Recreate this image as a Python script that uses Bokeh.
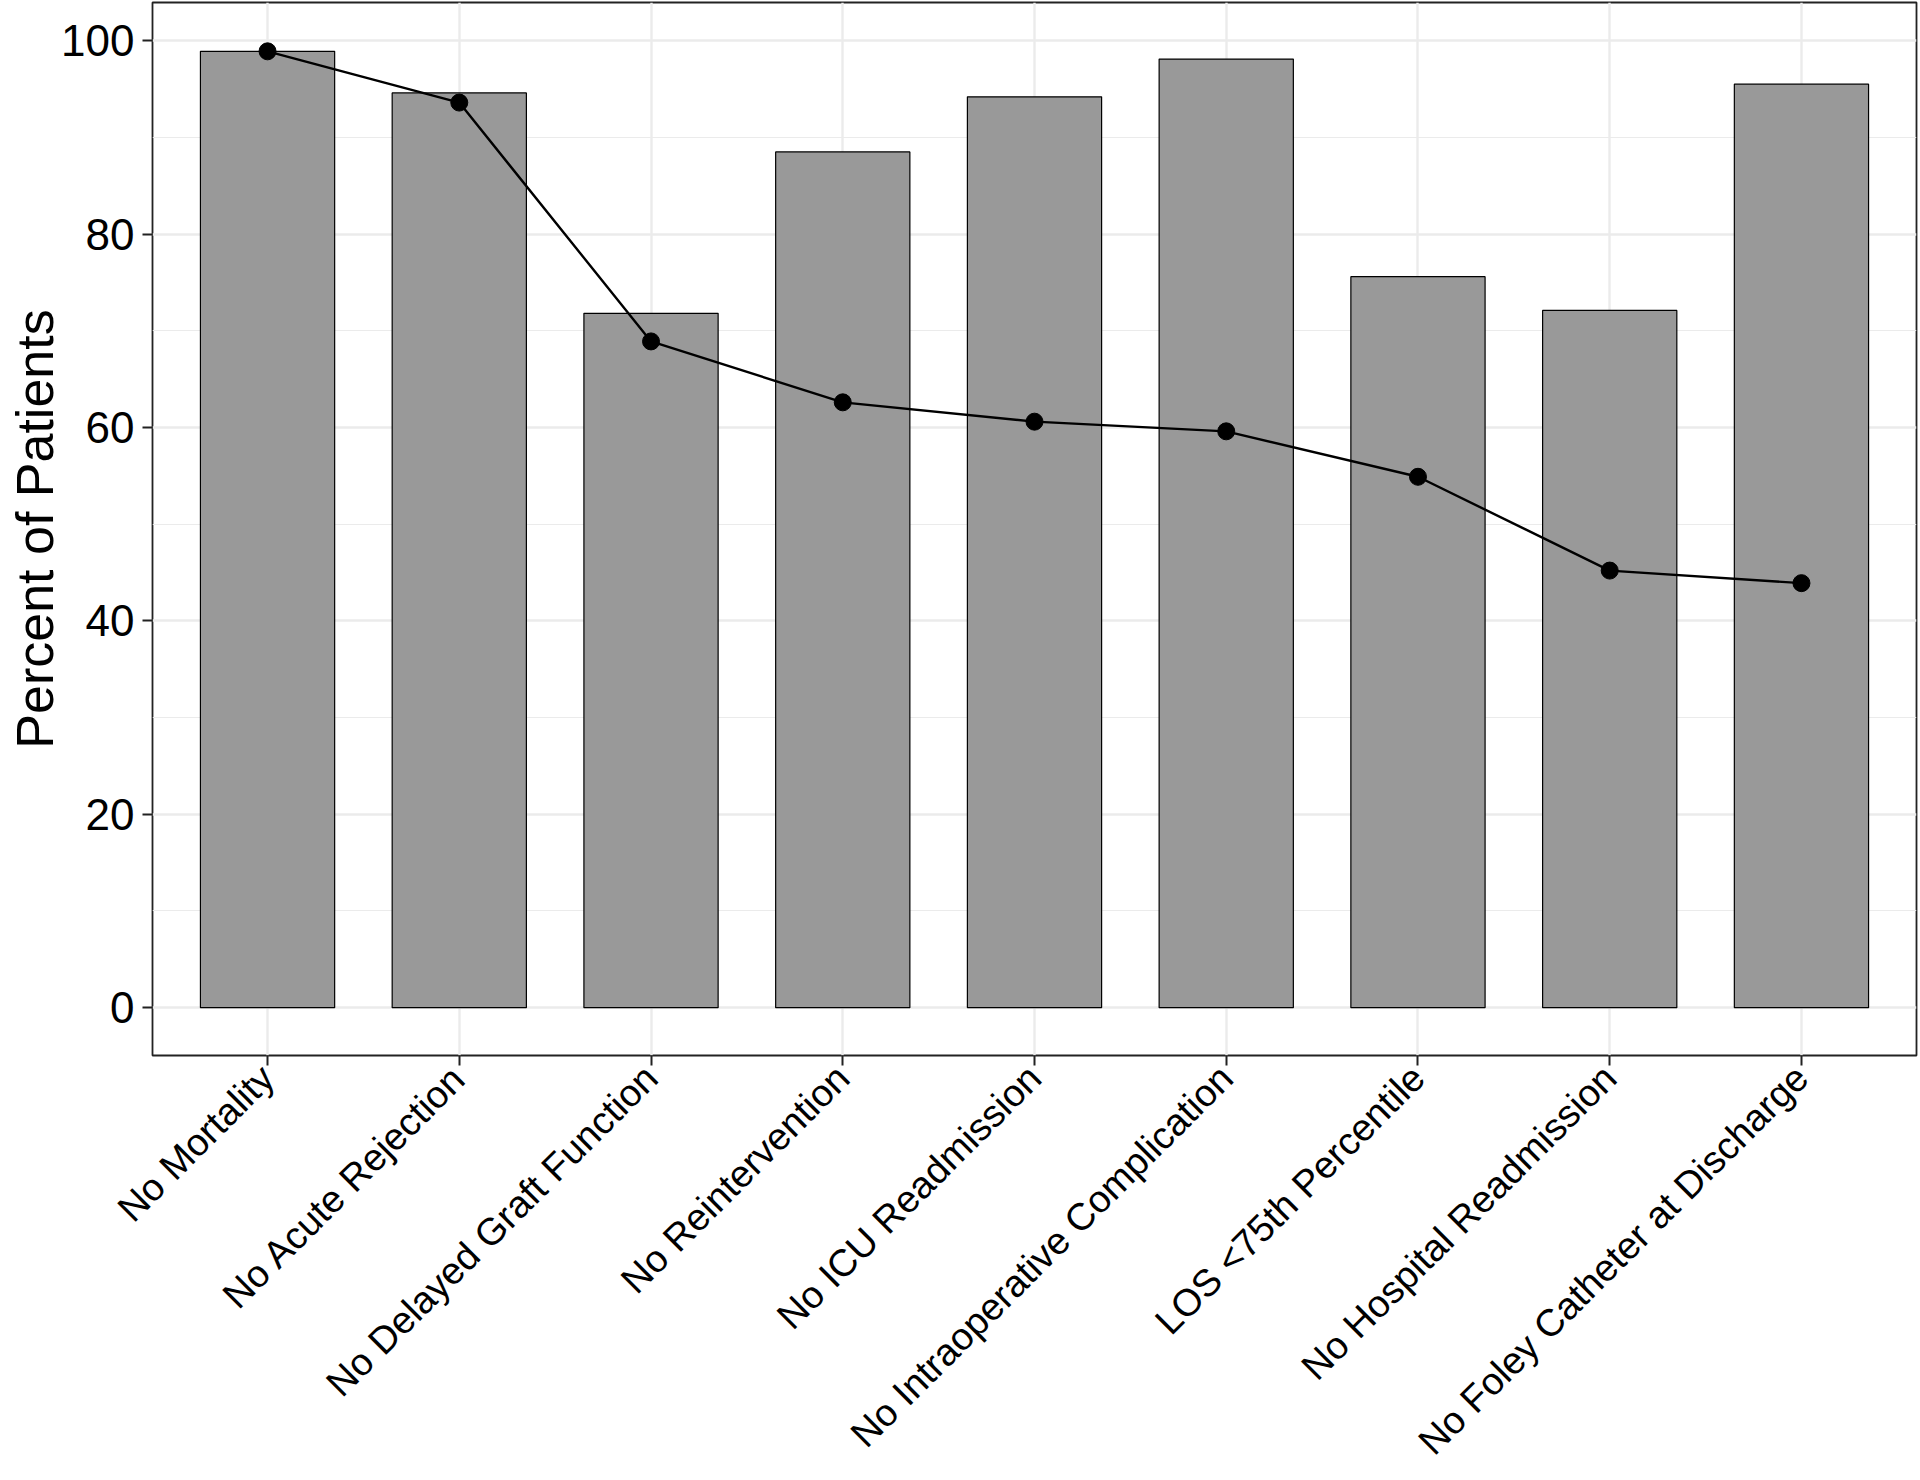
import math
from bokeh.plotting import figure
from bokeh.models import Range1d, FixedTicker, ColumnDataSource
from bokeh.embed import file_html
from bokeh.resources import INLINE

categories = [
    "No Mortality",
    "No Acute Rejection",
    "No Delayed Graft Function",
    "No Reintervention",
    "No ICU Readmission",
    "No Intraoperative Complication",
    "LOS <75th Percentile",
    "No Hospital Readmission",
    "No Foley Catheter at Discharge",
]
bar_values = [98.9, 94.6, 71.8, 88.5, 94.2, 98.1, 75.6, 72.1, 95.5]
cumulative_values = [98.9, 93.6, 68.9, 62.6, 60.6, 59.6, 54.9, 45.2, 43.9]
y_ticks = [0, 20, 40, 60, 80, 100]
y_minor = [10, 30, 50, 70, 90]

FONT = "Liberation Sans"
xs = list(range(1, len(categories) + 1))
Y_MIN, Y_MAX = -4.95, 103.95
src = ColumnDataSource(dict(x=xs, bar=bar_values, cum=cumulative_values))

p = figure(width=1920, height=1480, output_backend="svg", toolbar_location=None,
           x_range=Range1d(0.4, len(categories) + 0.6),
           y_range=Range1d(Y_MIN, Y_MAX))
p.min_border_left = 152
p.min_border_right = 4
p.min_border_top = 2
p.min_border_bottom = 425
p.background_fill_color = "white"
p.border_fill_color = "white"
p.outline_line_color = "#222222"
p.outline_line_width = 1.8

# grids
p.xgrid.ticker = FixedTicker(ticks=xs)
p.xgrid.grid_line_color = "#EBEBEB"
p.xgrid.grid_line_width = 2.4
p.ygrid.ticker = FixedTicker(ticks=y_ticks, minor_ticks=y_minor)
p.ygrid.grid_line_color = "#EBEBEB"
p.ygrid.grid_line_width = 2.4
p.ygrid.minor_grid_line_color = "#EBEBEB"
p.ygrid.minor_grid_line_width = 1.2

# bars
p.vbar(x="x", top="bar", bottom=0, width=0.7, source=src,
       fill_color="#999999", line_color="black", line_width=1.2)
# line + points
p.line(x="x", y="cum", source=src, line_color="black", line_width=2.4)
p.scatter(x="x", y="cum", source=src, size=17, fill_color="black", line_color="black")

# axes
p.xaxis.ticker = FixedTicker(ticks=xs)
p.xaxis.major_label_overrides = {x: c for x, c in zip(xs, categories)}
p.xaxis.major_label_orientation = math.pi / 4
p.yaxis.ticker = FixedTicker(ticks=y_ticks)
for ax in (p.xaxis[0], p.yaxis[0]):
    ax.axis_line_color = None
    ax.major_tick_line_color = "#222222"
    ax.major_tick_line_width = 2
    ax.major_tick_out = 10
    ax.major_tick_in = 0
    ax.minor_tick_line_color = None
    ax.major_label_text_font = FONT
    ax.major_label_text_color = "black"
p.xaxis.major_label_text_font_size = "38px"
p.xaxis.major_label_standoff = 6
p.yaxis.major_label_standoff = 8
p.yaxis.major_label_text_font_size = "44px"
p.yaxis.axis_label = "Percent of Patients"
p.yaxis.axis_label_text_font = FONT
p.yaxis.axis_label_text_font_style = "normal"
p.yaxis.axis_label_text_font_size = "52px"
p.yaxis.axis_label_text_color = "black"
p.yaxis.axis_label_standoff = -6

open("out.html", "w").write(file_html(p, INLINE))
